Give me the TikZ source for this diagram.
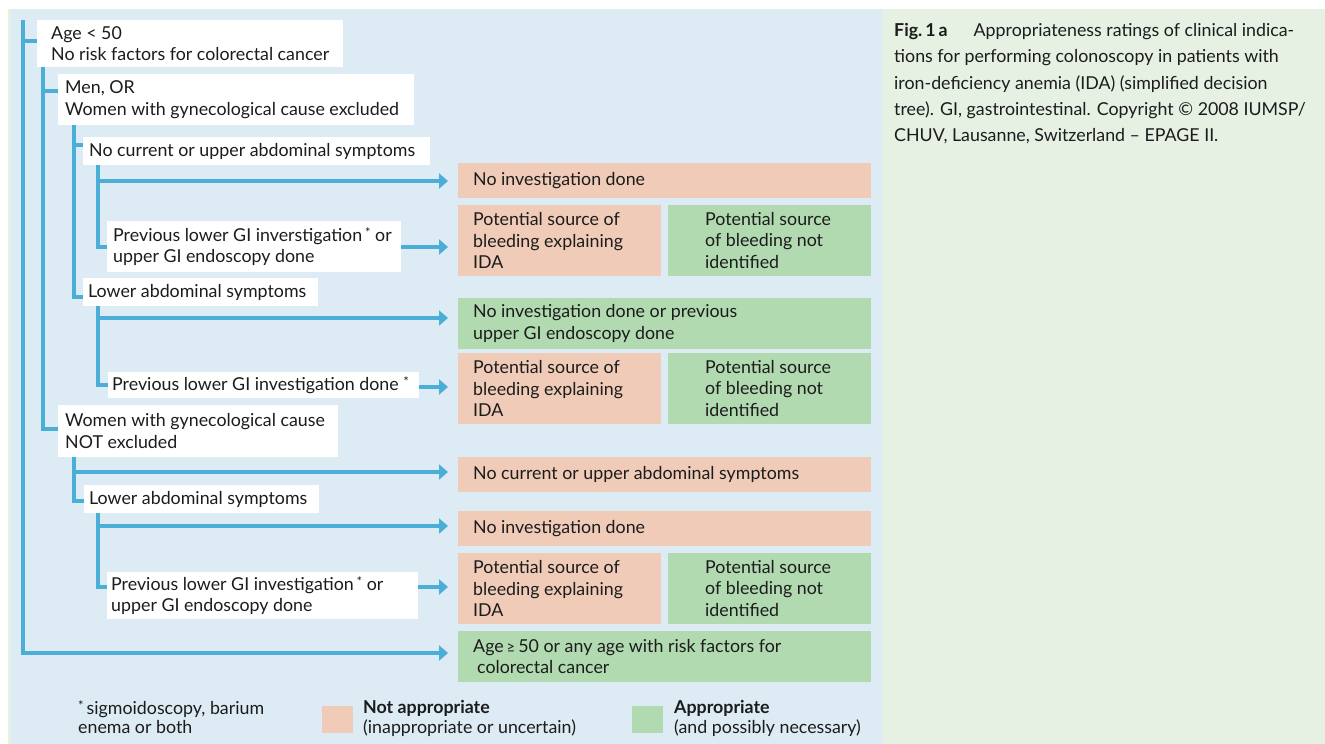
\documentclass[tikz,border=0pt]{standalone}
\usepackage{fontspec}
\setmainfont{Lato}
\usetikzlibrary{arrows.meta,calc}
\definecolor{bluebg}{RGB}{220,235,244}
\definecolor{greenbg}{RGB}{230,241,228}
\definecolor{pinkbox}{RGB}{240,203,184}
\definecolor{greenbox}{RGB}{177,218,176}
\definecolor{treeline}{RGB}{75,174,214}
\definecolor{txtcol}{RGB}{28,28,28}
\newcommand\fs{\fontsize{17.8}{21.5}\selectfont}
\newcommand\fsl{\fontsize{17.8}{19.5}\selectfont}
\newcommand\myast{\raisebox{4pt}{\fontsize{13}{13}\selectfont *}}
\newcommand\bx[8]{%
  \pgfmathsetmacro\myW{#5-#3}\pgfmathsetmacro\myH{#6-#4}%
  \node[#2, anchor=north west, minimum width=\myW pt, minimum height=\myH pt, inner sep=0pt, outer sep=0pt] (#1) at (#3,#4) {};%
  \node[txt, anchor=west] (#1t) at ($(#1.west)+(#7,0)$) {#8};}
\tikzset{
  txt/.style={font=\fs, text=txtcol, align=left, inner sep=0pt},
  wbox/.style={fill=white},
  pbox/.style={fill=pinkbox},
  gbox/.style={fill=greenbox},
  tl/.style={draw=treeline, line width=4pt},
  arr/.style={draw=treeline, line width=4pt, -{Triangle[length=9pt,width=15pt]}, shorten >=10pt},
}
\begin{document}
\begin{tikzpicture}[x=1pt,y=-1pt]
\useasboundingbox (0,0) rectangle (1325,744);
\fill[white] (0,0) rectangle (1325,744);
\fill[greenbg] (8,9) rectangle (1325,744);
\fill[bluebg] (11,9) rectangle (882,744);

% tree boxes
\bx{b1}{wbox}{37}{20}{343}{67}{14}{Age < 50\\No risk factors for colorectal cancer}
\bx{b2}{wbox}{58}{74}{414}{125}{7}{Men, OR\\Women with gynecological cause excluded}
\bx{b3}{wbox}{83}{137}{430}{165}{6}{No current or upper abdominal symptoms}
\bx{p1}{wbox}{107}{221}{401}{272}{6}{Previous lower GI inverstigation\,\myast\ or\\upper GI endoscopy done}
\bx{la1}{wbox}{83}{278}{318}{306}{5}{Lower abdominal symptoms}
\bx{pd}{wbox}{108}{372}{419}{398}{4}{Previous lower GI investigation done \myast}
\bx{ne}{wbox}{58}{405}{338}{457}{7}{Women with gynecological cause\\NOT excluded}
\bx{la2}{wbox}{84}{485}{319}{513}{5}{Lower abdominal symptoms}
\bx{p2}{wbox}{107}{572}{418}{619}{4}{Previous lower GI investigation\,\myast\ or\\upper GI endoscopy done}

% result boxes
\bx{r1}{pbox}{458}{163}{871}{198}{15}{No investigation done}
\bx{q1L}{pbox}{458}{205}{661}{276}{15}{Potential source of\\bleeding explaining\\IDA}
\bx{q1R}{gbox}{668}{205}{871}{276}{37}{Potential source\\of bleeding not\\identified}
\bx{r2}{gbox}{458}{298}{871}{349}{15}{No investigation done or previous\\upper GI endoscopy done}
\bx{q2L}{pbox}{458}{353}{661}{424}{15}{Potential source of\\bleeding explaining\\IDA}
\bx{q2R}{gbox}{668}{353}{871}{424}{37}{Potential source\\of bleeding not\\identified}
\bx{r3}{pbox}{458}{457}{871}{492}{15}{No current or upper abdominal symptoms}
\bx{r4}{pbox}{458}{511}{871}{546}{15}{No investigation done}
\bx{q3L}{pbox}{458}{553}{661}{624}{15}{Potential source of\\bleeding explaining\\IDA}
\bx{q3R}{gbox}{668}{553}{871}{624}{37}{Potential source\\of bleeding not\\identified}
\bx{r5}{gbox}{458}{631}{871}{682}{15}{Age\,{\fontsize{15}{15}\selectfont ≥}\,50 or any age with risk factors for\\\hspace*{4pt}colorectal cancer}

% tree coordinates
\coordinate (L0) at (23,20);
\coordinate (L1) at (43,67);
\coordinate (L2a) at (74,125);
\coordinate (L3a) at (98,165);
\coordinate (L3b) at (98,306);
\coordinate (L2b) at (74,457);
\coordinate (L3c) at (98,513);

% ticks
\draw[tl] (L0) |- ($(b1.west)+(0,-2.5)$);
\draw[tl] (L1) |- ($(b2.west)+(0,-8.5)$);
\draw[tl] (L1) |- ($(ne.west)+(0,-2)$);
\draw[tl] (L2a) |- ($(b3.west)+(0,-6)$);
\draw[tl] (L2a) |- ($(la1.west)+(0,5)$);
\draw[tl] (L3a) |- (p1.west);
\draw[tl] (L3b) |- (pd.west);
\draw[tl] (L2b) |- ($(la2.west)+(0,2)$);
\draw[tl] (L3c) |- ($(p2.west)+(0,-8.5)$);

% arrows
\coordinate (a1) at (98,181);
\draw[arr] (a1) -- (a1 -| r1.west);
\coordinate (a2) at (401,247);
\draw[arr] (a2) -- (a2 -| q1L.west);
\coordinate (a3) at (98,318);
\draw[arr] (a3) -- (a3 -| r2.west);
\coordinate (a4) at (419,387);
\draw[arr] (a4) -- (a4 -| q2L.west);
\coordinate (a5) at (74,472);
\draw[arr] (a5) -- (a5 -| r3.west);
\coordinate (a6) at (98,526);
\draw[arr] (a6) -- (a6 -| r4.west);
\coordinate (a7) at (418,587);
\draw[arr] (a7) -- (a7 -| q3L.west);
\coordinate (a8) at (23,653);
\draw[arr] (L0) |- (a8 -| r5.west);

% legend
\node[txt, anchor=west, font=\fsl] (fn) at (78,717) {\myast\,sigmoidoscopy, barium\\enema or both};
\node[pbox, anchor=north west, minimum width=31pt, minimum height=27pt, inner sep=0pt] (lp) at (322,706) {};
\node[txt, anchor=west, font=\fsl] (lpt) at (363,718.5) {\textbf{Not appropriate}\\(inappropriate or uncertain)};
\node[gbox, anchor=north west, minimum width=31pt, minimum height=27pt, inner sep=0pt] (lg) at (632,706) {};
\node[txt, anchor=west, font=\fsl] (lgt) at (674,718.5) {\textbf{Appropriate}\\(and possibly necessary)};

% caption
\node[txt, anchor=north west, font=\fontsize{17.8}{26.3}\selectfont] (cap) at (894,23) {\textbf{Fig.\,1\,a}\hspace{26pt}Appropriateness ratings of clinical indica-\\tions for performing colonoscopy in patients with\\iron-deficiency anemia (IDA) (simplified decision\\tree). GI, gastrointestinal. Copyright © 2008 IUMSP/\\CHUV, Lausanne, Switzerland – EPAGE II.};
\end{tikzpicture}
\end{document}
